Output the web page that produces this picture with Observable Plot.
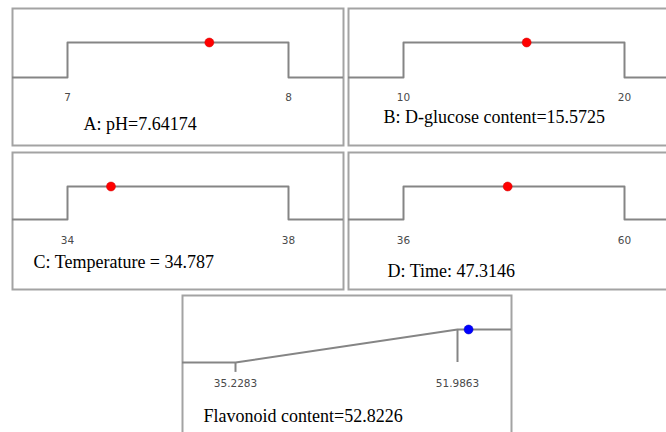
<!DOCTYPE html>
<html><head><meta charset="utf-8">
<script src="https://cdn.jsdelivr.net/npm/d3@7"></script>
<script src="https://cdn.jsdelivr.net/npm/@observablehq/plot@0.6"></script>
<style>
html,body{margin:0;padding:0;background:#fff;}
#wrap{position:relative;width:666px;height:432px;overflow:hidden;background:#fff;}
#wrap svg{position:absolute;overflow:visible;background:transparent;}
</style></head><body><div id="wrap"></div>
<script>
// ---- data ----
const factorNames = ["A: pH", "B: D-glucose content", "C: Temperature", "D: Time"];
const factorSep = ["=", "=", " = ", ": "];
const factorLow = [7, 10, 34, 36];
const factorHigh = [8, 20, 38, 60];
const factorValue = [7.64174, 15.5725, 34.787, 47.3146];
const responseName = "Flavonoid content";
const responseLow = 35.2283;
const responseHigh = 51.9863;
const responseValue = 52.8226;

// ---- styling / layout ----
const lineColor = "#858585";
const frameColor = "#a3a3a3";
const tickFont = "DejaVu Sans";
const titleFont = "Liberation Serif";
const layout = [
  {left: 11, top: 7, width: 333, height: 139, xr: [56, 277], yr: [70, 35], tx: 72, ty: 122, tickDy: 20},
  {left: 347, top: 7, width: 334, height: 139, xr: [56, 277], yr: [70, 35], tx: 36, ty: 115, tickDy: 20},
  {left: 11, top: 151, width: 333, height: 139, xr: [56, 277], yr: [68, 35], tx: 22, ty: 116, tickDy: 21},
  {left: 347, top: 151, width: 334, height: 139, xr: [56, 277], yr: [68, 35], tx: 40, ty: 125, tickDy: 21}
];
const respLayout = {left: 181, top: 294, width: 331, height: 160, xr: [54, 276], yr: [68, 35], tx: 22, ty: 127, tickDy: 21};

const wrap = document.getElementById("wrap");

function place(svg, L) {
  svg.style.left = L.left + "px";
  svg.style.top = L.top + "px";
  wrap.appendChild(svg);
}

factorNames.forEach((name, i) => {
  const L = layout[i];
  const lo = factorLow[i], hi = factorHigh[i], v = factorValue[i];
  const span = hi - lo;
  const step = [
    {x: lo - span, y: 0}, {x: lo, y: 0}, {x: lo, y: 1},
    {x: hi, y: 1}, {x: hi, y: 0}, {x: hi + span, y: 0}
  ];
  const svg = Plot.plot({
    width: L.width, height: L.height, margin: 1,
    x: {domain: [lo, hi], range: L.xr, axis: null},
    y: {domain: [0, 1], range: L.yr, axis: null},
    marks: [
      Plot.frame({stroke: frameColor, strokeWidth: 2}),
      Plot.line(step, {x: "x", y: "y", stroke: lineColor, strokeWidth: 2, clip: true}),
      Plot.text([lo, hi], {x: d => d, y: () => 0, dy: L.tickDy, text: d => String(d),
        fontFamily: tickFont, fontSize: 10.5, fill: "#4a4a4a", lineAnchor: "middle"}),
      Plot.dot([{x: v, y: 1}], {x: "x", y: "y", r: 4.5, fill: "#ff0000", stroke: "#d00000", strokeWidth: 0.5}),
      Plot.text([name + factorSep[i] + String(v)], {frameAnchor: "top-left", dx: L.tx - 1, dy: L.ty - 1,
        lineAnchor: "bottom", textAnchor: "start", text: d => d,
        fontFamily: titleFont, fontSize: 18, fill: "#000"})
    ]
  });
  place(svg, L);
});

{
  const L = respLayout;
  const lo = responseLow, hi = responseHigh, v = responseValue;
  const span = hi - lo;
  const ramp = [{x: lo - span, y: 0}, {x: lo, y: 0}, {x: hi, y: 1}, {x: hi + span, y: 1}];
  const svg = Plot.plot({
    width: L.width, height: L.height, margin: 1,
    x: {domain: [lo, hi], range: L.xr, axis: null},
    y: {domain: [0, 1], range: L.yr, axis: null},
    marks: [
      Plot.frame({stroke: frameColor, strokeWidth: 2}),
      Plot.line(ramp, {x: "x", y: "y", stroke: lineColor, strokeWidth: 2, clip: true}),
      Plot.ruleX([hi], {y1: 0, y2: 1, stroke: lineColor, strokeWidth: 2}),
      Plot.ruleX([lo], {y1: 0, y2: -0.3, stroke: lineColor, strokeWidth: 2}),
      Plot.text([lo, hi], {x: d => d, y: () => 0, dy: L.tickDy, text: d => String(d),
        fontFamily: tickFont, fontSize: 10.5, fill: "#4a4a4a", lineAnchor: "middle"}),
      Plot.dot([{x: v, y: 1}], {x: "x", y: "y", r: 4.5, fill: "#0000ff", stroke: "#0000c0", strokeWidth: 0.5}),
      Plot.text([responseName + "=" + String(v)], {frameAnchor: "top-left", dx: L.tx - 1, dy: L.ty - 1,
        lineAnchor: "bottom", textAnchor: "start", text: d => d,
        fontFamily: titleFont, fontSize: 18, fill: "#000"})
    ]
  });
  place(svg, L);
}
</script></body></html>
